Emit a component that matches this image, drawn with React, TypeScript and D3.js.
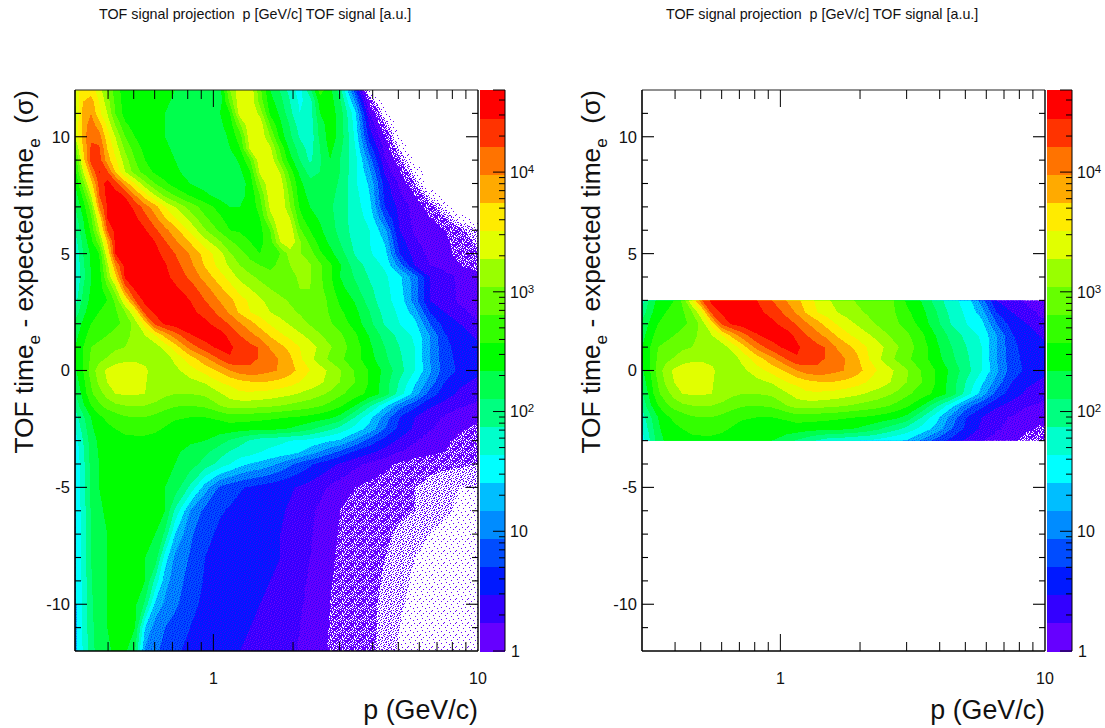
import * as d3 from 'd3';

// momentum (GeV/c) of each column of the table below
const pColumns = [
  0.3, 0.322, 0.345, 0.37, 0.397, 0.426,
  0.464, 0.506, 0.552, 0.603, 0.657, 0.717,
  0.817, 0.93, 1.06,
  1.156, 1.26, 1.38, 1.5, 1.64, 1.79, 1.95, 2.12, 2.32, 2.53, 2.76, 3.01,
  3.43, 3.9, 4.45, 5.06, 5.77, 6.57, 7.49, 8.53, 10,
];
const sigmaRows = [
  12, 11.5, 11, 10.5, 10, 9.5, 9, 8.5, 8, 7.5, 7, 6.5, 6, 5.5, 5, 4.5, 4, 3.5, 3, 2.5, 2, 1.5, 1, 0.5, 0,
  -0.5, -1, -1.5, -2, -2.5, -3, -3.5, -4, -5, -6, -7, -8, -9, -10, -11, -12,
];

// colour band per (sigma, p): 0 = lowest palette band, 19 = top,
// below 0 = only some bins filled, below -2.5 = empty
const bandLevels = [
  [14.5, 15.5, 15.5, 14.5, 13, 11.5, 10.5, 10.5, 10.5, 10.3, 10.2, 10, 10, 9.5, 9.6, 13, 14.8, 14.8, 12.3, 10, 8.9, 7.6, 6.5, 8.7, 11.5, 10.3, 8.5, 3.5, -2.6, -3, -3, -3, -3, -3, -3, -3],
  [14, 16, 16.5, 15, 13.5, 11.8, 10.5, 10.4, 10.3, 10.2, 10.1, 9.9, 9.6, 9.2, 9.5, 12.3, 14.8, 14.8, 12.6, 10.4, 9.4, 8, 6.8, 7.5, 10.5, 10.5, 9.2, 5, -0.5, -3, -3, -3, -3, -3, -3, -3],
  [13.5, 16.5, 17, 15.3, 14, 12, 10.6, 10.3, 10.2, 10.1, 10, 9.8, 9.4, 9.1, 10, 11, 14.6, 14.9, 13.7, 10.8, 9.8, 8.3, 7, 7.5, 10, 10.5, 9.6, 6.3, 1, -2, -3, -3, -3, -3, -3, -3],
  [14, 16.5, 17.5, 16.5, 14.8, 13, 11.2, 10.6, 10.3, 10.2, 10, 9.8, 9.3, 9.1, 9.8, 10.5, 12.8, 14.9, 14.8, 12, 10.2, 8.9, 7.5, 7.3, 9.5, 10.5, 9.6, 6.6, 1.8, -1, -2.8, -3, -3, -3, -3, -3],
  [14, 16.5, 17.8, 17.5, 15.5, 14, 12, 11, 10.4, 10.2, 10, 9.8, 9.3, 9.1, 9.3, 10.3, 11.5, 14.8, 14.9, 13, 10.6, 9.2, 7.9, 7.3, 9.3, 10.5, 9.7, 6.8, 2.5, 0, -2.6, -3, -3, -3, -3, -3],
  [12.5, 16, 18.2, 18.2, 16, 14.6, 12.8, 11.5, 10.7, 10.4, 10.1, 9.9, 9.4, 9.1, 9.2, 10, 11, 14.3, 14.9, 14.2, 11.8, 9.7, 8.6, 7.5, 9, 10.3, 9.3, 7.1, 3.5, 0.6, -1.6, -3, -3, -3, -3, -3],
  [11, 15.5, 18.5, 18.5, 16.5, 15.2, 13.5, 12, 11, 10.5, 10.2, 10, 9.6, 9.2, 9.1, 9.5, 10.2, 12, 14.8, 14.9, 12.4, 10.4, 9, 7.8, 8.9, 10, 9, 7.4, 4.5, 1.2, -0.8, -2.6, -3, -3, -3, -3],
  [10.5, 14, 17, 19.1, 18.2, 16, 14, 12.5, 11.5, 10.8, 10.4, 10.1, 9.8, 9.4, 9.1, 9.3, 9.8, 11, 14.3, 14.9, 13.9, 11.5, 9.8, 8.6, 9, 9.6, 9, 7.3, 5.2, 1.8, 0, -1.8, -3, -3, -3, -3],
  [10, 12.5, 15.5, 18.3, 19.4, 18.5, 16.5, 15, 13.3, 12, 11.2, 10.5, 10, 9.6, 9.2, 9.2, 9.4, 10.5, 13, 14.9, 14.6, 12.2, 10.3, 9.3, 9.6, 9.6, 8.8, 7.2, 5.8, 2.5, 0.8, -1, -3, -3, -3, -3],
  [9.5, 11.3, 14, 18, 19.3, 19.4, 18.9, 17, 15.4, 14, 12.7, 11.9, 10.9, 10.2, 9.6, 9.6, 9.8, 10.2, 12, 14.7, 14.9, 12.7, 10.5, 9.7, 9.6, 9.3, 8.7, 7.4, 6, 2.7, 1.2, 0, -1.7, -3, -3, -3],
  [9, 10.5, 12.5, 17, 19, 19.5, 19.4, 18.8, 17.5, 16.4, 15, 14, 12.6, 11.5, 10.6, 10, 10, 10.3, 11.5, 14.3, 14.9, 13, 10.9, 10, 9.7, 9.2, 8.5, 7.5, 6.3, 3, 1.7, 0.6, -0.5, -1.8, -3, -3],
  [8.5, 10, 11.8, 15, 19, 19.4, 19.5, 19.2, 18.4, 17.3, 16.1, 15.1, 13.7, 12.2, 11.2, 10.5, 10.4, 10.4, 11, 13.5, 14.9, 14, 11.4, 10.3, 9.9, 9.3, 8.6, 7.5, 6.7, 4, 1.8, 0.7, 0, -0.9, -2, -3],
  [8, 9.7, 11.2, 14, 18, 19.3, 19.6, 19.5, 19.1, 18.2, 17.3, 16.4, 14.8, 13.1, 11.8, 11, 10.9, 10.5, 10.7, 12, 14.9, 14.8, 12.2, 11, 10.2, 9.4, 8.7, 7.5, 7, 5.3, 2, 0.8, 0.3, 0, -0.8, -1.5],
  [7.5, 9.3, 10.7, 12.5, 16, 19.2, 19.6, 19.6, 19.4, 19, 18.1, 17.2, 15.9, 14.4, 13.1, 12.2, 11.5, 11, 10.7, 11.6, 14, 14.8, 13.2, 11.7, 10.6, 9.8, 9, 7.7, 7, 5.9, 2.5, 1.2, 0.5, 0.2, -0.5, -1.2],
  [7, 9, 10.2, 11, 14.8, 19, 19.5, 19.7, 19.6, 19.3, 18.7, 18, 16.9, 15.6, 14.4, 13.1, 12.4, 11.6, 11, 11.3, 12, 13.5, 13.1, 12.5, 11.2, 10.3, 9.5, 7.9, 7.1, 6.4, 3, 1.6, 0.7, 0.3, -0.3, -0.9],
  [6.9, 8.8, 10.1, 10.7, 13.6, 17, 19.4, 19.6, 19.7, 19.5, 19.1, 18.4, 17.3, 15.9, 14.6, 13.8, 13, 12.4, 12, 11.8, 12.2, 13, 13.3, 13.1, 12.2, 11.2, 10.1, 8.5, 7.6, 6.8, 4.5, 2, 1, 0.5, 0, -0.5],
  [6.8, 8.7, 10, 10.4, 13, 15.6, 19.2, 19.5, 19.7, 19.7, 19.3, 18.7, 17.8, 16.6, 15.4, 14.6, 13.7, 13.2, 12.8, 12.3, 12.2, 12.8, 13.1, 13.1, 12.2, 11.2, 10, 8.9, 7.9, 7.2, 6.2, 4.5, 2, 1.5, 0.8, 0.4],
  [7.1, 9, 10.1, 10.5, 11.8, 13.5, 17.5, 19.2, 19.5, 19.7, 19.6, 19.2, 18.5, 17.4, 16.2, 15.4, 14.6, 14, 13.4, 13, 12.7, 12.6, 13, 13, 12.3, 11.4, 10.4, 9.3, 8.2, 7.3, 6.4, 4.5, 2, 1.5, 0.8, 0.4],
  [7.5, 9.3, 10.3, 10.7, 11, 12.2, 15, 18, 19.3, 19.6, 19.7, 19.5, 19, 18, 16.9, 16.3, 15.4, 14.8, 14.2, 13.6, 13.2, 12.9, 12.8, 12.7, 12.4, 11.8, 10.8, 9.9, 8.5, 7.3, 6.6, 4.5, 2, 1.6, 0.8, 0.4],
  [8.4, 9.7, 10.6, 11, 11.3, 11.8, 13, 15, 18.5, 19.2, 19.5, 19.7, 19.3, 18.6, 17.7, 16.8, 15.8, 15, 14.6, 14, 13.6, 13.2, 12.9, 12.7, 12.4, 11.9, 11.2, 10.3, 9, 7.6, 6.8, 5.5, 3, 2, 1.3, 0.7],
  [9.3, 10.2, 11, 11.3, 11.5, 11.8, 12.2, 13.5, 15.5, 18.3, 19.2, 19.5, 19.6, 19.3, 18.4, 17.9, 17.1, 16.4, 15.6, 14.9, 14.4, 13.9, 13.4, 12.9, 12.5, 12.1, 11.6, 10.6, 9.3, 7.9, 7, 6.3, 4, 2.6, 2, 1.1],
  [9.6, 10.6, 11.5, 11.8, 12, 12.3, 12.7, 13.3, 14, 15, 16.3, 17.5, 18.9, 19.4, 19.5, 18.7, 18, 17.3, 16.7, 15.9, 15.2, 14.7, 14.2, 13.7, 13.1, 12.6, 12.2, 11.2, 9.9, 8.6, 7.7, 6.8, 5, 3.1, 2.4, 1.8],
  [10, 11, 12, 12.2, 12.5, 12.8, 13, 13.2, 13.3, 13.5, 14.4, 15.5, 17.4, 18.6, 19.3, 19.2, 18.6, 18.3, 17.9, 16.9, 16.3, 15.7, 15, 14.4, 13.8, 13.1, 12.5, 11.5, 10.2, 9, 8, 7, 5, 3.3, 2.6, 2.2],
  [10, 11, 12.2, 12.7, 13.1, 13.5, 13.7, 13.8, 13.7, 13.3, 13.4, 14.3, 15.5, 16.7, 18.1, 18.9, 18.6, 18.3, 17.9, 17.4, 16.9, 16.2, 15.2, 14.3, 13.5, 12.8, 12.2, 11.4, 10.4, 9.2, 8.2, 7, 5, 3.4, 2.7, 2.2],
  [9.8, 11, 12.5, 13.5, 14.2, 14.6, 14.8, 14.6, 14.2, 13.5, 13.3, 13.7, 14.6, 15.4, 16.2, 17, 17.5, 17.7, 17.5, 17.2, 16.9, 16.4, 15.7, 15, 14.4, 13.8, 13.1, 11.9, 10.9, 9.7, 8.4, 7, 5.2, 3.5, 2.8, 2.2],
  [9.4, 10.7, 12.1, 13.2, 14, 14.4, 14.6, 14.5, 14.1, 13.4, 13.2, 13.4, 13.7, 14.1, 15, 15.3, 15.7, 15.9, 16, 15.9, 15.7, 15.4, 15, 14.6, 14.2, 13.6, 13, 12, 10.9, 9.5, 7.9, 6.2, 4.6, 3, 2.2, 1.8],
  [8.8, 10.4, 11.8, 12.6, 13.4, 14, 14.1, 14.1, 14, 13.5, 13.2, 13, 13, 13.2, 13.9, 14.4, 14.8, 14.8, 14.7, 14.6, 14.4, 14.2, 13.9, 13.6, 13.2, 12.8, 12.2, 11.5, 10.7, 9.6, 7.5, 5.5, 3.6, 2.5, 1.8, 1.3],
  [8.2, 9.8, 11, 11.8, 12.4, 12.8, 13, 13, 13, 12.8, 12.4, 12.1, 12, 12.2, 13, 13.5, 13.4, 13.4, 13.3, 13.2, 13, 12.8, 12.6, 12.4, 12.1, 11.7, 11.2, 10, 8.2, 6.3, 4.5, 3.3, 2.2, 1.6, 1.1, 0.8],
  [7.5, 8.8, 10, 10.8, 11.2, 11.5, 11.9, 12, 12, 11.7, 11.4, 11.1, 11, 11, 11.2, 11.5, 11.4, 11.4, 11.3, 11.2, 11.1, 11, 10.9, 10.7, 10.5, 10.2, 9.7, 8, 6.3, 4.6, 3, 2, 1.3, 0.9, 0.5, 0.2],
  [7, 8.4, 9.8, 10.5, 10.8, 11, 11.3, 11.4, 11.4, 11.2, 10.9, 10.7, 10.5, 10.5, 10.5, 10.5, 10.4, 10.3, 10.3, 10.2, 10.1, 9.9, 9.6, 9.2, 8.7, 8.2, 7.6, 6.6, 5.6, 4, 2.7, 1.8, 1.1, 0.7, 0.2, -0.3],
  [6.4, 8, 9.5, 10.2, 10.4, 10.5, 10.7, 10.7, 10.7, 10.6, 10.4, 10.3, 10.1, 10, 9.4, 8.9, 8.4, 7.9, 7.5, 7.3, 7.2, 7, 6.9, 6.7, 6.4, 6.1, 5.9, 4.8, 3.6, 2.6, 1.8, 1.1, 0.6, 0.3, -0.5, -0.8],
  [6.2, 7.8, 9.4, 10.1, 10.3, 10.4, 10.4, 10.4, 10.4, 10.3, 10.2, 10.1, 9.8, 9.2, 8.4, 7.9, 7.5, 7.4, 7, 6.8, 6.6, 6.4, 6, 5.4, 4.9, 4.3, 3.7, 2.8, 2.2, 1.6, 1, 0.6, 0.2, 0, -0.7, -1],
  [6, 7.7, 9.3, 10, 10.2, 10.3, 10.3, 10.3, 10.2, 10.2, 10.1, 10, 9.5, 8.6, 7.6, 7, 6.4, 5.9, 5.7, 5.3, 4.8, 4.2, 3.7, 3.2, 2.7, 2.3, 1.9, 1.3, 0.8, 0.3, -0.2, -0.6, -0.8, -0.8, -0.9, -1],
  [6, 7.6, 9.2, 10, 10.2, 10.2, 10.2, 10.2, 10.1, 10.1, 10, 9.6, 7.8, 5.5, 3.8, 3.4, 3.1, 2.9, 2.7, 2.5, 2.3, 2.1, 1.9, 1.6, 1.3, 0.9, 0.5, 0, -0.3, -0.6, -0.8, -1, -1.2, -1.5, -1.6, -1.6],
  [5.9, 7.5, 9.1, 9.9, 10.1, 10.2, 10.2, 10.1, 10.1, 10.1, 10, 7.8, 5, 3.7, 3.1, 2.9, 2.7, 2.5, 2.4, 2.3, 2.1, 1.9, 1.6, 1.2, 0.8, 0.4, 0, -0.4, -0.6, -0.8, -0.9, -1, -1.2, -1.5, -1.7, -1.8],
  [5.9, 7.4, 9, 9.8, 10, 10.2, 10.2, 10.1, 10.1, 10, 8.8, 6, 4.2, 3.3, 2.8, 2.6, 2.5, 2.4, 2.3, 2.2, 2, 1.8, 1.4, 1.1, 0.7, 0.3, -0.1, -0.5, -0.7, -0.9, -1.1, -1.3, -1.6, -1.8, -1.9, -1.9],
  [5.8, 7.4, 9, 9.8, 10, 10.2, 10.2, 10.1, 10, 9.7, 6.5, 4.8, 3.9, 3, 2.6, 2.5, 2.4, 2.3, 2.2, 2.1, 2, 1.7, 1.3, 1, 0.6, 0.2, -0.2, -0.6, -0.8, -1, -1.3, -1.6, -1.8, -1.9, -2, -2],
  [5.8, 7.3, 8.9, 9.8, 10, 10.2, 10.2, 10.1, 10, 7.7, 5.4, 4.5, 3.6, 2.9, 2.5, 2.4, 2.3, 2.2, 2.1, 2, 1.9, 1.6, 1.2, 0.9, 0.5, 0.1, -0.3, -0.6, -0.85, -1.05, -1.4, -1.7, -1.9, -2, -2.1, -2.1],
  [5.7, 7.3, 8.8, 9.7, 10, 10.2, 10.3, 10.2, 8.8, 5.8, 4.8, 4.2, 3.4, 2.7, 2.4, 2.3, 2.2, 2.1, 2, 1.9, 1.8, 1.5, 1.1, 0.8, 0.4, 0, -0.3, -0.65, -0.9, -1.1, -1.5, -1.8, -2, -2.1, -2.2, -2.2],
  [5.6, 7.2, 8.7, 9.6, 10, 10.2, 10.3, 10, 6, 4.5, 4, 3.6, 3, 2.5, 2.4, 2.3, 2.1, 2, 1.9, 1.8, 1.7, 1.4, 1, 0.7, 0.3, -0.05, -0.4, -0.7, -0.9, -1.1, -1.6, -1.9, -2.1, -2.2, -2.3, -2.3],
  [5.5, 7.1, 8.6, 9.5, 9.9, 10.1, 10.2, 9, 4.8, 4.2, 3.7, 3.2, 2.7, 2.4, 2.3, 2.2, 2, 1.9, 1.8, 1.7, 1.6, 1.3, 0.9, 0.6, 0.2, -0.1, -0.4, -0.7, -0.9, -1.2, -1.7, -2, -2.2, -2.3, -2.4, -2.4],
];

const palette = [
  '#6600ff', '#3300ff', '#0019ff', '#004cff', '#008cff',
  '#00beff', '#00ffff', '#00ffcc', '#00ff80', '#00ff4d',
  '#00ff00', '#33ff00', '#66ff00', '#99ff00', '#e1ff00',
  '#ffeb00', '#ffaa00', '#ff7300', '#ff3300', '#ff0000',
];
const maxCount = 48500;
const title = 'TOF signal projection\u00a0\u00a0p [GeV/c] TOF signal [a.u.]';
const sigmaTicks = [-10, -5, 0, 5, 10];

// stipple tiles for the part of the histogram where bin counts are noisy or only some bins are filled
const denseTile = ['#.##.#..#.##', '.#..##.#.##.', '##.#.#..##.#', '#.#..##.#..#', '.##.#..###.#', '#..##.#.#.##', '.#.#.##..##.', '##..#.#.##.#', '#.##..##.#..', '.#.#.#.#.###', '#.##.##..#.#', '.##.#..##.#.'];
const sparseTile = ['............', '...#.....#..', '............', '.#..........', '.......#....', '............', '..#.........', '.........#..', '.....#......', '............', '#...........', '......#....#'];
const mottleTile = ['#...#..#....', '..#....#..#.', '.#..#.....#.', '...#..#.#...', '#.....#...#.', '..#.#....#..', '.#.....#...#', '....#.#..#..', '#.#.....#...', '....##.....#', '.#.....#.#..', '...#.#.....#'];

const top = 90;
const bottom = 651;
const plotWidth = 403;
const n = pColumns.length;
const m = sigmaRows.length;
const mottledBands = [0, 1, 2, 3, 4, 5];

const yScale = d3.scaleLinear().domain([-12, 12]).range([bottom, top]);
const countScale = d3.scaleLog().domain([1, maxCount]).range([bottom, top]);

const contourSets = d3.contours()
  .size([n, m])
  .smooth(true)
  .thresholds([-2.5, -1.6, -1, 0, ...d3.range(1, 20)])(bandLevels.flat());

function fillFor(value: number) {
  if (value === -2.5) return 'url(#sparse)';
  if (value === -1.6) return 'url(#medium)';
  if (value === -1) return 'url(#dense)';
  if (mottledBands.includes(value)) return `url(#mottle${value})`;
  return palette[value];
}

function Tile({ id, rows, base, dot }: { id: string; rows: string[]; base?: string; dot: string }) {
  return (
    <pattern id={id} width={12} height={12} patternUnits="userSpaceOnUse">
      {base && <rect width={12} height={12} fill={base} />}
      {rows.flatMap((row, j) => row.split('').map((c, i) => (
        c === '#' ? <rect key={`${i}-${j}`} x={i} y={j} width={1} height={1} fill={dot} /> : null
      )))}
    </pattern>
  );
}

function Panel({ left, clip, id }: { left: number; clip: boolean; id: string }) {
  const right = left + plotWidth;
  const xScale = d3.scaleLog().domain([0.3, 10]).range([left, right]);
  const colX = d3.scaleLinear().domain(d3.range(n)).range(pColumns.map(p => xScale(p))).clamp(true);
  const rowY = d3.scaleLinear().domain(d3.range(m)).range(sigmaRows.map(s => yScale(s))).clamp(true);
  const path = d3.geoPath(d3.geoTransform({
    point(x, y) {
      this.stream.point(colX(x - 0.5), rowY(y - 0.5));
    },
  }));
  const xMinor = xScale.ticks().filter(p => p > 0.3 && p < 10 && p !== 1);
  const clipTop = clip ? yScale(3) : top;
  const clipBottom = clip ? yScale(-3) : bottom;
  const barLeft = right + 2;
  const barRight = barLeft + 25;
  const countTicks = countScale.ticks().filter(c => c <= maxCount);
  const yTitleX = left - 42;

  return (
    <g>
      <clipPath id={id}>
        <rect x={left} y={clipTop} width={plotWidth} height={clipBottom - clipTop} />
      </clipPath>
      <g clipPath={`url(#${id})`} shapeRendering="crispEdges">
        {contourSets.map(c => (
          <path key={c.value} d={path(c) ?? ''} fill={fillFor(c.value)} />
        ))}
      </g>

      {/* frame and mirrored ticks */}
      <g stroke="#000" fill="none">
        <line x1={left} x2={right} y1={top} y2={top} strokeWidth={1} stroke="#222" />
        <line x1={right} x2={right} y1={top} y2={bottom} strokeWidth={1.4} />
        <line x1={left} x2={left} y1={top} y2={bottom} strokeWidth={1.6} />
        <line x1={left} x2={right} y1={bottom} y2={bottom} strokeWidth={1.6} />
        {xMinor.map(p => (
          <g key={p}>
            <line x1={xScale(p)} x2={xScale(p)} y1={bottom} y2={bottom - 9} strokeWidth={1} />
            <line x1={xScale(p)} x2={xScale(p)} y1={top} y2={top + 9} strokeWidth={1} />
          </g>
        ))}
        <line x1={xScale(1)} x2={xScale(1)} y1={bottom} y2={bottom - 17} strokeWidth={1} />
        <line x1={xScale(1)} x2={xScale(1)} y1={top} y2={top + 17} strokeWidth={1} />
        {d3.range(-11, 12).map(s => {
          const len = s % 5 === 0 ? 12 : 6;
          return (
            <g key={s}>
              <line x1={left} x2={left + len} y1={yScale(s)} y2={yScale(s)} strokeWidth={1.1} />
              <line x1={right} x2={right - len} y1={yScale(s)} y2={yScale(s)} strokeWidth={1.1} />
            </g>
          );
        })}
      </g>

      {/* palette */}
      <g shapeRendering="crispEdges">
        {palette.map((color, i) => {
          const step = (bottom - top) / palette.length;
          return <rect key={color} x={barLeft} y={bottom - (i + 1) * step} width={barRight - barLeft} height={step + 0.5} fill={color} />;
        })}
      </g>
      <g stroke="#000" fill="none" strokeWidth={1}>
        <line x1={barRight} x2={barRight} y1={top} y2={bottom} />
        {countTicks.map(c => {
          const major = Math.abs(Math.log10(c) % 1) < 1e-9;
          return <line key={c} x1={barRight} x2={barRight - (major ? 12 : 6)} y1={countScale(c)} y2={countScale(c)} />;
        })}
        <line x1={barRight - 12} x2={barRight} y1={top} y2={top} />
      </g>

      {/* labels */}
      <g fontFamily="'Liberation Sans', Arial, sans-serif" fill="#111">
        <text x={left + 24} y={19} fontSize={14.3}>{title}</text>
        {sigmaTicks.map(s => (
          <text key={s} x={left - 5} y={yScale(s)} dy="0.36em" textAnchor="end" fontSize={16.5}>{s}</text>
        ))}
        <text x={xScale(1)} y={684} textAnchor="middle" fontSize={16}>1</text>
        <text x={xScale(10)} y={684} textAnchor="middle" fontSize={16}>10</text>
        <text x={right} y={719} textAnchor="end" fontSize={26.8}>p (GeV/c)</text>
        <text transform={`translate(${yTitleX},${top}) rotate(-90)`} textAnchor="end" fontSize={26.3}>
          TOF time<tspan fontSize={17} dy={7}>e</tspan>
          <tspan dy={-7}> - expected time</tspan><tspan fontSize={17} dy={7}>e</tspan>
          <tspan dy={-7}>{'\u00a0\u00a0(\u03c3)'}</tspan>
        </text>
        <text x={barRight + 6} y={countScale(1)} dy="0.36em" fontSize={16}>1</text>
        <text x={barRight + 5} y={countScale(10)} dy="0.36em" fontSize={16}>10</text>
        {[2, 3, 4].map(e => (
          <text key={e} x={barRight + 5} y={countScale(10 ** e)} dy="0.36em" fontSize={16}>
            10<tspan fontSize={11.5} dy={-5}>{e}</tspan>
          </text>
        ))}
      </g>
    </g>
  );
}

export default function App() {
  return (
    <svg width={1105} height={728} style={{ position: 'fixed', left: 0, top: 0, display: 'block', background: '#fff' }}>
      <defs>
        <Tile id="dense" rows={denseTile} dot={palette[0]} />
        <Tile id="medium" rows={mottleTile} dot={palette[0]} />
        <Tile id="sparse" rows={sparseTile} dot={palette[0]} />
        {mottledBands.map(b => (
          <Tile key={b} id={`mottle${b}`} rows={mottleTile} base={palette[b]} dot={palette[b === 0 ? 1 : b - 1]} />
        ))}
      </defs>
      <Panel left={75} clip={false} id="clipLeft" />
      <Panel left={642} clip={true} id="clipRight" />
    </svg>
  );
}
